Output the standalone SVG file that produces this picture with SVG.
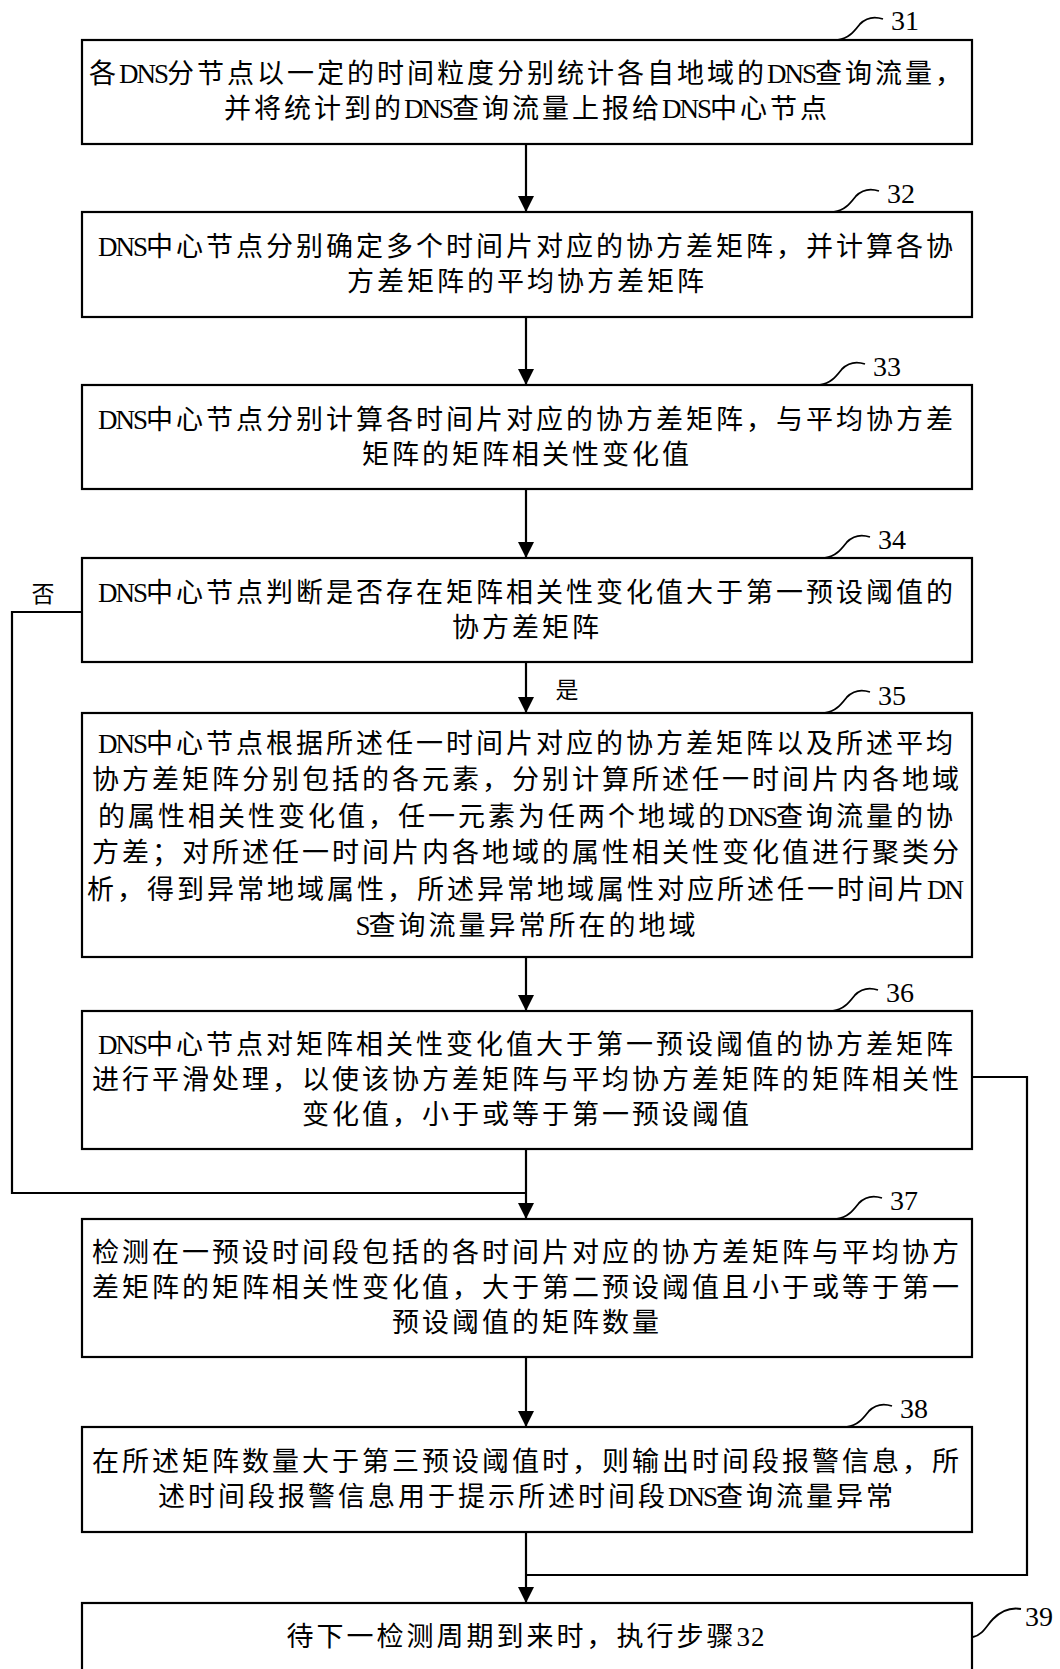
<svg xmlns="http://www.w3.org/2000/svg" width="1060" height="1669" viewBox="0 0 1060 1669">
<style>
.box{fill:#fff;stroke:#000;stroke-width:2.2}
.t{font-family:"Liberation Serif","Noto Sans CJK SC",serif;font-size:27px;letter-spacing:3px;fill:#000;text-anchor:middle}
.lbl{font-family:"Liberation Serif",serif;font-size:28px;fill:#000}
.yn{font-family:"Noto Sans CJK SC",sans-serif;font-size:23px;fill:#000;text-anchor:middle}
.sq{fill:none;stroke:#000;stroke-width:1.8}
.ln{fill:none;stroke:#000;stroke-width:2.2}
</style>
<defs>
<marker id="ah" markerUnits="userSpaceOnUse" markerWidth="16" markerHeight="18" refX="16" refY="8" orient="auto">
<path d="M0,0 L16,8 L0,16 Z" fill="#000"/>
</marker>
</defs>

<g id="connectors">
<line class="ln" x1="526" y1="144" x2="526" y2="212" marker-end="url(#ah)"/>
<line class="ln" x1="526" y1="317" x2="526" y2="385" marker-end="url(#ah)"/>
<line class="ln" x1="526" y1="489" x2="526" y2="558" marker-end="url(#ah)"/>
<line class="ln" x1="526" y1="662" x2="526" y2="713" marker-end="url(#ah)"/>
<line class="ln" x1="526" y1="957" x2="526" y2="1011" marker-end="url(#ah)"/>
<line class="ln" x1="526" y1="1149" x2="526" y2="1219" marker-end="url(#ah)"/>
<polyline class="ln" points="82,612 12,612 12,1193 526,1193"/>
<line class="ln" x1="526" y1="1357" x2="526" y2="1427" marker-end="url(#ah)"/>
<line class="ln" x1="526" y1="1532" x2="526" y2="1603" marker-end="url(#ah)"/>
<polyline class="ln" points="972,1077 1027,1077 1027,1575 526,1575"/>
<text class="yn" x="567" y="698">是</text>
<text class="yn" x="43" y="602">否</text>
</g>

<g id="n31">
<rect class="box" x="82" y="40" width="890" height="104"/>
<text class="t" x="527" y="83" dx="0 0 -5 -5 -5 0 0 0 0 0 0 0 0 0 0 0 0 0 0 0 0 0 0 0 0 -5 -5 -5">各DNS分节点以一定的时间粒度分别统计各自地域的DNS查询流量，</text>
<text class="t" x="527" y="118" dx="0 0 0 0 0 0 0 -5 -5 -5 0 0 0 0 0 0 0 -5 -5 -5">并将统计到的DNS查询流量上报给DNS中心节点</text>
<path class="sq" d="M838,40 c12,-2 17,-10 22,-16 c6,-6 14,-8 23,-5"/>
<text class="lbl" x="891" y="30">31</text>
</g>

<g id="n32">
<rect class="box" x="82" y="212" width="890" height="105"/>
<text class="t" x="527" y="256" dx="0 -5 -5 -5">DNS中心节点分别确定多个时间片对应的协方差矩阵，并计算各协</text>
<text class="t" x="527" y="291">方差矩阵的平均协方差矩阵</text>
<path class="sq" d="M834,212 c12,-2 17,-10 22,-16 c6,-6 14,-8 23,-5"/>
<text class="lbl" x="887" y="203">32</text>
</g>

<g id="n33">
<rect class="box" x="82" y="385" width="890" height="104"/>
<text class="t" x="527" y="429" dx="0 -5 -5 -5">DNS中心节点分别计算各时间片对应的协方差矩阵，与平均协方差</text>
<text class="t" x="527" y="464">矩阵的矩阵相关性变化值</text>
<path class="sq" d="M820,385 c12,-2 17,-10 22,-16 c6,-6 14,-8 23,-5"/>
<text class="lbl" x="873" y="376">33</text>
</g>

<g id="n34">
<rect class="box" x="82" y="558" width="890" height="104"/>
<text class="t" x="527" y="602" dx="0 -5 -5 -5">DNS中心节点判断是否存在矩阵相关性变化值大于第一预设阈值的</text>
<text class="t" x="527" y="637">协方差矩阵</text>
<path class="sq" d="M825,558 c12,-2 17,-10 22,-16 c6,-6 14,-8 23,-5"/>
<text class="lbl" x="878" y="549">34</text>
</g>

<g id="n35">
<rect class="box" x="82" y="713" width="890" height="244"/>
<text class="t" x="527" y="753" dx="0 -5 -5 -5">DNS中心节点根据所述任一时间片对应的协方差矩阵以及所述平均</text>
<text class="t" x="527" y="789">协方差矩阵分别包括的各元素，分别计算所述任一时间片内各地域</text>
<text class="t" x="527" y="826" dx="0 0 0 0 0 0 0 0 0 0 0 0 0 0 0 0 0 0 0 0 0 0 -5 -5 -5">的属性相关性变化值，任一元素为任两个地域的DNS查询流量的协</text>
<text class="t" x="527" y="862">方差；对所述任一时间片内各地域的属性相关性变化值进行聚类分</text>
<text class="t" x="527" y="899" dx="0 0 0 0 0 0 0 0 0 0 0 0 0 0 0 0 0 0 0 0 0 0 0 0 0 0 0 0 0 -5">析，得到异常地域属性，所述异常地域属性对应所述任一时间片DN</text>
<text class="t" x="527" y="935" dx="0 -5">S查询流量异常所在的地域</text>
<path class="sq" d="M825,713 c12,-2 17,-10 22,-16 c6,-6 14,-8 23,-5"/>
<text class="lbl" x="878" y="705">35</text>
</g>

<g id="n36">
<rect class="box" x="82" y="1011" width="890" height="138"/>
<text class="t" x="527" y="1054" dx="0 -5 -5 -5">DNS中心节点对矩阵相关性变化值大于第一预设阈值的协方差矩阵</text>
<text class="t" x="527" y="1089">进行平滑处理，以使该协方差矩阵与平均协方差矩阵的矩阵相关性</text>
<text class="t" x="527" y="1124">变化值，小于或等于第一预设阈值</text>
<path class="sq" d="M833,1011 c12,-2 17,-10 22,-16 c6,-6 14,-8 23,-5"/>
<text class="lbl" x="886" y="1002">36</text>
</g>

<g id="n37">
<rect class="box" x="82" y="1219" width="890" height="138"/>
<text class="t" x="527" y="1262">检测在一预设时间段包括的各时间片对应的协方差矩阵与平均协方</text>
<text class="t" x="527" y="1297">差矩阵的矩阵相关性变化值，大于第二预设阈值且小于或等于第一</text>
<text class="t" x="527" y="1332">预设阈值的矩阵数量</text>
<path class="sq" d="M837,1219 c12,-2 17,-10 22,-16 c6,-6 14,-8 23,-5"/>
<text class="lbl" x="890" y="1210">37</text>
</g>

<g id="n38">
<rect class="box" x="82" y="1427" width="890" height="105"/>
<text class="t" x="527" y="1471">在所述矩阵数量大于第三预设阈值时，则输出时间段报警信息，所</text>
<text class="t" x="527" y="1506" dx="0 0 0 0 0 0 0 0 0 0 0 0 0 0 0 0 0 0 -5 -5 -5">述时间段报警信息用于提示所述时间段DNS查询流量异常</text>
<path class="sq" d="M847,1427 c12,-2 17,-10 22,-16 c6,-6 14,-8 23,-5"/>
<text class="lbl" x="900" y="1418">38</text>
</g>

<g id="n39">
<rect class="box" x="82" y="1603" width="890" height="80"/>
<text class="t" x="527" y="1646" dx="0 0 0 0 0 0 0 0 0 0 0 0 0 0 0 0 -2">待下一检测周期到来时，执行步骤32</text>
<path class="sq" d="M973,1637 c10,-2 14,-12 20,-18 c8,-8 17,-12 28,-10"/>
<text class="lbl" x="1025" y="1626">39</text>
</g>
</svg>
